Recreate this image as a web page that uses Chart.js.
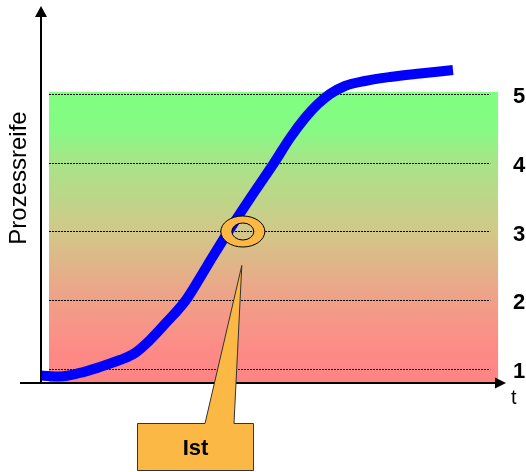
<!DOCTYPE html>
<html>
<head>
<meta charset="utf-8">
<script src="https://cdn.jsdelivr.net/npm/chart.js@4/dist/chart.umd.min.js"></script>
<style>
  html, body { margin: 0; padding: 0; background: #ffffff; }
  #wrap { width: 526px; height: 472px; }
</style>
</head>
<body>
<div id="wrap"><canvas id="c" width="526" height="472"></canvas></div>
<script>
// ---- data ----
const timeValues     = [0, 4.09, 8.39, 12.69, 16.99, 20.22, 23.44, 26.67, 31.18, 35.70, 40.22, 45.16, 50.11, 53.55, 56.77, 59.57, 62.15, 65.38, 69.68, 75.05, 81.51, 88.6];
const maturityValues = [0.905, 0.891, 0.942, 1.029, 1.131, 1.233, 1.422, 1.655, 2.004, 2.498, 2.993, 3.502, 3.996, 4.360, 4.651, 4.855, 5.000, 5.116, 5.189, 5.247, 5.298, 5.349];
const levelTicks     = [1, 2, 3, 4, 5];
const tickLabels     = ['1', '2', '3', '4', '5'];
const istPoint       = [43.4, 3.0];
const istLabel       = 'Ist';
const yAxisTitle     = 'Prozessreife';
const xAxisTitle     = 't';

const FONT = '"Liberation Sans", Arial, sans-serif';

const decor = {
  id: 'decor',
  beforeDatasetsDraw(chart) {
    const ctx = chart.ctx, xs = chart.scales.x, ys = chart.scales.y;
    const ca = chart.chartArea;
    const left = xs.getPixelForValue(1.72), right = xs.getPixelForValue(98.3);
    const lineRight = xs.getPixelForValue(96.6);
    const top = ys.getPixelForValue(levelTicks[levelTicks.length - 1]) - 2;
    const bottom = ca.bottom;
    ctx.save();
    const g = ctx.createLinearGradient(0, top, 0, bottom);
    g.addColorStop(0, '#80FF80');
    g.addColorStop(0.13, '#86FA84');
    g.addColorStop(0.245, '#A8E488');
    g.addColorStop(0.48, '#D2C888');
    g.addColorStop(0.715, '#F0A088');
    g.addColorStop(0.89, '#FD8A86');
    g.addColorStop(1, '#FF8484');
    ctx.fillStyle = g;
    ctx.fillRect(left, top, right - left, bottom - top);
    ctx.strokeStyle = '#000000';
    ctx.lineWidth = 1;
    ctx.setLineDash([2, 1]);
    levelTicks.forEach(v => {
      const y = Math.round(ys.getPixelForValue(v)) + 0.5;
      ctx.beginPath();
      ctx.moveTo(left, y);
      ctx.lineTo(lineRight, y);
      ctx.stroke();
    });
    ctx.setLineDash([]);
    ctx.restore();
  },
  afterDatasetsDraw(chart) {
    const ctx = chart.ctx, xs = chart.scales.x, ys = chart.scales.y;
    const ca = chart.chartArea;
    ctx.save();
    // axes
    ctx.strokeStyle = '#000';
    ctx.fillStyle = '#000';
    ctx.lineWidth = 2;
    const ax = ca.left, ay = ca.bottom;
    ctx.beginPath();
    ctx.moveTo(ax, ay + 1);
    ctx.lineTo(ax, ca.top + 8);
    ctx.stroke();
    ctx.beginPath();
    ctx.moveTo(ax, ca.top);
    ctx.lineTo(ax - 6, ca.top + 11);
    ctx.lineTo(ax + 6, ca.top + 11);
    ctx.closePath();
    ctx.fill();
    ctx.beginPath();
    ctx.moveTo(20, ay);
    ctx.lineTo(ca.right - 8, ay);
    ctx.stroke();
    ctx.beginPath();
    ctx.moveTo(ca.right, ay);
    ctx.lineTo(ca.right - 11, ay - 5.5);
    ctx.lineTo(ca.right - 11, ay + 5.5);
    ctx.closePath();
    ctx.fill();

    // tick labels
    ctx.font = 'bold 22px ' + FONT;
    ctx.textAlign = 'center';
    ctx.textBaseline = 'middle';
    levelTicks.forEach((v, i) => {
      ctx.fillText(tickLabels[i], 519, ys.getPixelForValue(v) + 3);
    });
    // axis titles
    ctx.font = '20px ' + FONT;
    ctx.textAlign = 'left';
    ctx.textBaseline = 'alphabetic';
    ctx.fillText(xAxisTitle, 511, 404);
    ctx.save();
    ctx.translate(26, 178);
    ctx.rotate(-Math.PI / 2);
    ctx.font = '24px ' + FONT;
    ctx.textAlign = 'center';
    ctx.fillText(yAxisTitle, 0, 0);
    ctx.restore();

    // ring
    const cx = xs.getPixelForValue(istPoint[0]);
    const cy = ys.getPixelForValue(istPoint[1]);
    ctx.fillStyle = '#FBB845';
    ctx.strokeStyle = '#000';
    ctx.lineWidth = 1;
    ctx.beginPath();
    ctx.ellipse(cx, cy, 22, 15.5, 0, 0, Math.PI * 2);
    ctx.ellipse(cx, cy, 11, 8.5, 0, 0, Math.PI * 2, true);
    ctx.fill('evenodd');
    ctx.beginPath();
    ctx.ellipse(cx, cy, 22, 15.5, 0, 0, Math.PI * 2);
    ctx.stroke();
    ctx.beginPath();
    ctx.ellipse(cx, cy, 11, 8.5, 0, 0, Math.PI * 2);
    ctx.stroke();

    // callout
    const tipX = cx - 1, tipY = cy + 34;
    ctx.beginPath();
    ctx.moveTo(137.5, 423.5);
    ctx.lineTo(205, 423.5);
    ctx.lineTo(tipX, tipY);
    ctx.lineTo(234, 423.5);
    ctx.lineTo(253.5, 423.5);
    ctx.lineTo(253.5, 470.5);
    ctx.lineTo(137.5, 470.5);
    ctx.closePath();
    ctx.fillStyle = '#FBB845';
    ctx.fill();
    ctx.strokeStyle = '#333';
    ctx.stroke();
    ctx.fillStyle = '#000';
    ctx.font = 'bold 22px ' + FONT;
    ctx.textAlign = 'center';
    ctx.textBaseline = 'alphabetic';
    ctx.fillText(istLabel, 195.5, 455);
    ctx.restore();
  }
};

new Chart(document.getElementById('c'), {
  type: 'line',
  data: {
    datasets: [{
      data: timeValues.map((t, i) => ({ x: t, y: maturityValues[i] })),
      borderColor: '#0000FF',
      borderWidth: 10,
      borderCapStyle: 'butt',
      borderJoinStyle: 'round',
      pointRadius: 0,
      fill: false,
      cubicInterpolationMode: 'monotone'
    }]
  },
  options: {
    responsive: false,
    animation: false,
    devicePixelRatio: 1,
    layout: { padding: { left: 41, right: 20, top: 6, bottom: 89 } },
    plugins: { legend: { display: false }, tooltip: { enabled: false } },
    scales: {
      x: { type: 'linear', display: false, min: 0, max: 100 },
      y: { type: 'linear', display: false, min: 0.79636, max: 6.28 }
    }
  },
  plugins: [decor]
});
</script>
</body>
</html>
